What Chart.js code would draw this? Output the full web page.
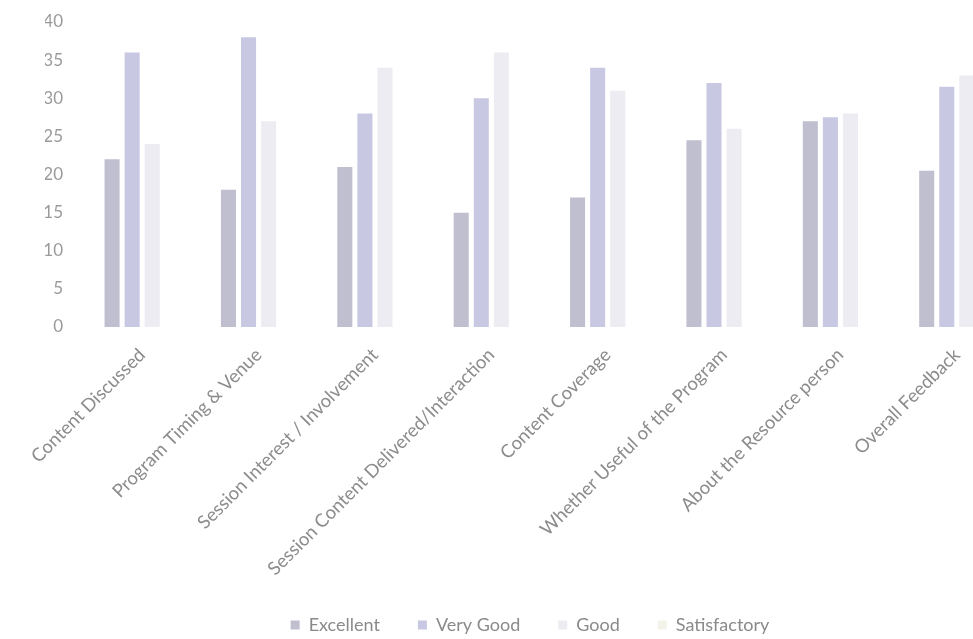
<!DOCTYPE html>
<html>
<head>
<meta charset="utf-8">
<script src="https://cdn.jsdelivr.net/npm/chart.js@4"></script>
<style>
  html, body { margin: 0; padding: 0; background: #fff; overflow: hidden; }
  #wrap { width: 1060px; height: 639px; }
</style>
</head>
<body>
<div id="wrap"><canvas id="feedbackChart" width="1060" height="639"></canvas></div>
<script>
const categories = [
  'Content Discussed',
  'Program Timing & Venue',
  'Session Interest / Involvement',
  'Session Content Delivered/Interaction',
  'Content Coverage',
  'Whether Useful of the Program',
  'About the Resource person',
  'Overall Feedback'
];
const excellent = [22, 18, 21, 15, 17, 24.5, 27, 20.5];
const veryGood = [36, 38, 28, 30, 34, 32, 27.5, 31.5];
const good = [24, 27, 34, 36, 31, 26, 28, 33];
const satisfactory = [0, 0, 0, 0, 0, 0, 0, 0];
const yTicks = [0, 5, 10, 15, 20, 25, 30, 35, 40];

const ctx = document.getElementById('feedbackChart').getContext('2d');
new Chart(ctx, {
  type: 'bar',
  data: {
    labels: categories,
    datasets: [
      { label: 'Excellent', data: excellent, backgroundColor: '#bfbfd0' },
      { label: 'Very Good', data: veryGood, backgroundColor: '#c8c8e3' },
      { label: 'Good', data: good, backgroundColor: '#ececf2' },
      { label: 'Satisfactory', data: satisfactory, backgroundColor: '#f3f3ea' }
    ]
  },
  options: {
    responsive: false,
    animation: false,
    // legend gets centred on the 45..1015 strip, same as the original
    layout: { padding: { top: 22, right: 45, left: 45, bottom: -5 } },
    datasets: { bar: { categoryPercentage: 0.69, barPercentage: 0.75 } },
    plugins: {
      legend: {
        position: 'bottom',
        labels: {
          boxWidth: 9,
          boxHeight: 9,
          padding: 38,
          color: '#8a8a8a',
          font: { family: 'Lato', size: 18 }
        }
      },
      tooltip: { enabled: false }
    },
    scales: {
      x: {
        grid: { display: false, drawTicks: false },
        border: { display: false },
        ticks: {
          minRotation: 45,
          maxRotation: 45,
          padding: 17,
          color: '#8c8c8c',
          font: { family: 'Lato', size: 18.5 }
        },
        afterFit: s => { s.height = 251; }
      },
      y: {
        min: 0,
        max: 40,
        afterBuildTicks: s => { s.ticks = yTicks.map(v => ({ value: v })); },
        grid: { display: false, drawTicks: false },
        border: { display: false },
        ticks: {
          padding: 21,
          color: '#9a9a9a',
          font: { family: 'Lato', size: 17 }
        },
        afterFit: s => {
          s.width = 39;
          // tick padding would otherwise push the plot top down
          s.paddingTop = 0;
          s.paddingBottom = 0;
        }
      }
    }
  }
});
</script>
</body>
</html>
